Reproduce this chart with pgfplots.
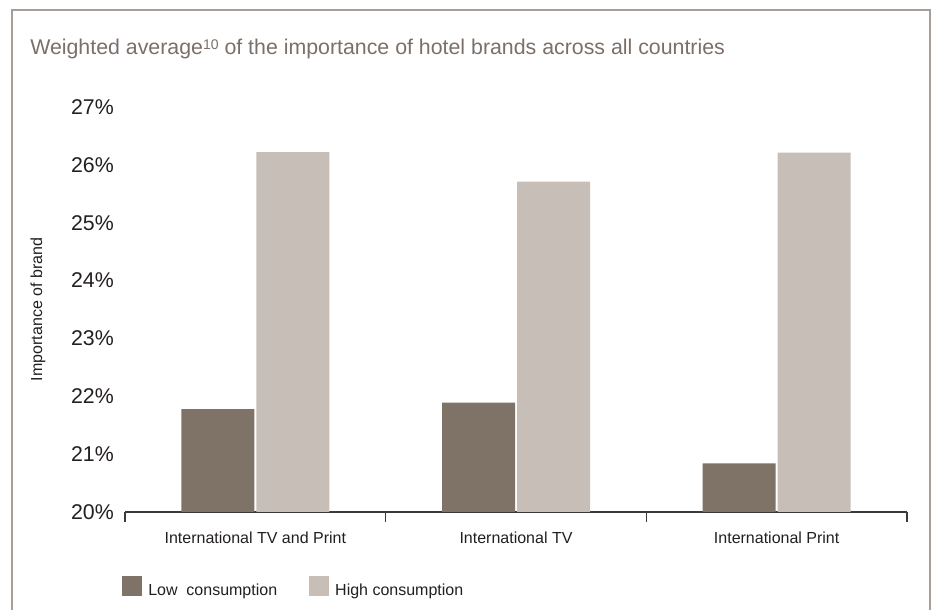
\documentclass[border=0pt]{standalone}
\usepackage{fontspec}
\setmainfont{Liberation Sans}
\usepackage{pgfplots}
\pgfplotsset{compat=1.18}
\definecolor{lowc}{HTML}{7F7266}
\definecolor{highc}{HTML}{C8BEB8}
\definecolor{titlec}{HTML}{7B6F68}
\definecolor{framec}{HTML}{A99E97}
\definecolor{txtc}{HTML}{231F20}
\definecolor{axc}{HTML}{3A3A3A}
\begin{document}
\begin{tikzpicture}
\useasboundingbox (0,0) rectangle (702pt,457.5pt);
\draw[framec, line width=1.6pt] (9pt,0pt) -- (9pt,450pt) -- (697.5pt,450pt) -- (697.5pt,0pt);
\node[anchor=base west, inner sep=0pt, text=titlec, font=\fontsize{16}{19}\selectfont] at (22.5pt,416.25pt) {Weighted average\raisebox{4.3pt}{\fontsize{10.5}{12}\selectfont 10} of the importance of hotel brands across all countries};
\begin{axis}[
  at={(93.75pt,73.5pt)}, anchor=south west,
  scale only axis, width=586.5pt, height=303.75pt,
  ybar=1.5pt, bar width=54.75pt,
  xmin=-0.5, xmax=2.5, ymin=20, ymax=27,
  ytick={20,21,22,23,24,25,26,27},
  yticklabel={\pgfmathprintnumber{\tick}\%},
  /pgf/number format/assume math mode=true,
  axis x line*=bottom, axis y line*=left,
  y axis line style={draw=none},
  x axis line style={-, draw=axc, line width=0.9pt},
  ytick style={draw=none},
  xtick={0,1,2},
  xticklabels={International TV and Print, International TV, International Print},
  major x tick style={draw=none},
  minor xtick={-0.5,0.5,1.5,2.5},
  minor x tick style={draw=axc, line width=0.9pt},
  tick align=outside, minor tick length=7.5pt, major tick length=0pt,
  yticklabel style={anchor=east, inner sep=0pt, xshift=-8.25pt, text=txtc, font=\fontsize{16}{19}\selectfont},
  xticklabel style={anchor=base, inner sep=0pt, yshift=-23.8pt, text=txtc, font=\fontsize{12}{14}\selectfont},
  ylabel={Importance of brand},
  ylabel style={at={(axis description cs:0,0.5)}, anchor=center, yshift=65.25pt, text=txtc, font=\fontsize{12}{14}\selectfont, inner sep=0pt},
  legend columns=2,
  legend style={at={(axis description cs:-0.00384,-0.185)}, anchor=west, draw=none, fill=none, inner sep=0pt, font=\fontsize{12}{14}\selectfont, text=txtc,
    nodes={inner sep=0pt},
    /tikz/column 1/.style={column sep=4.5pt},
    /tikz/column 2/.style={column sep=23.5pt},
    /tikz/column 3/.style={column sep=5pt}},
  legend image code/.code={\fill[#1, draw=none] (0pt,-3.5pt) rectangle (15pt,11.5pt);},
  clip=true,
]
\addplot[fill=lowc, draw=none] coordinates {(0,21.78) (1,21.89) (2,20.84)};
\addplot[fill=highc, draw=none] coordinates {(0,26.22) (1,25.71) (2,26.21)};
\legend{Low\ \ consumption, High consumption}
\end{axis}
\end{tikzpicture}
\end{document}
